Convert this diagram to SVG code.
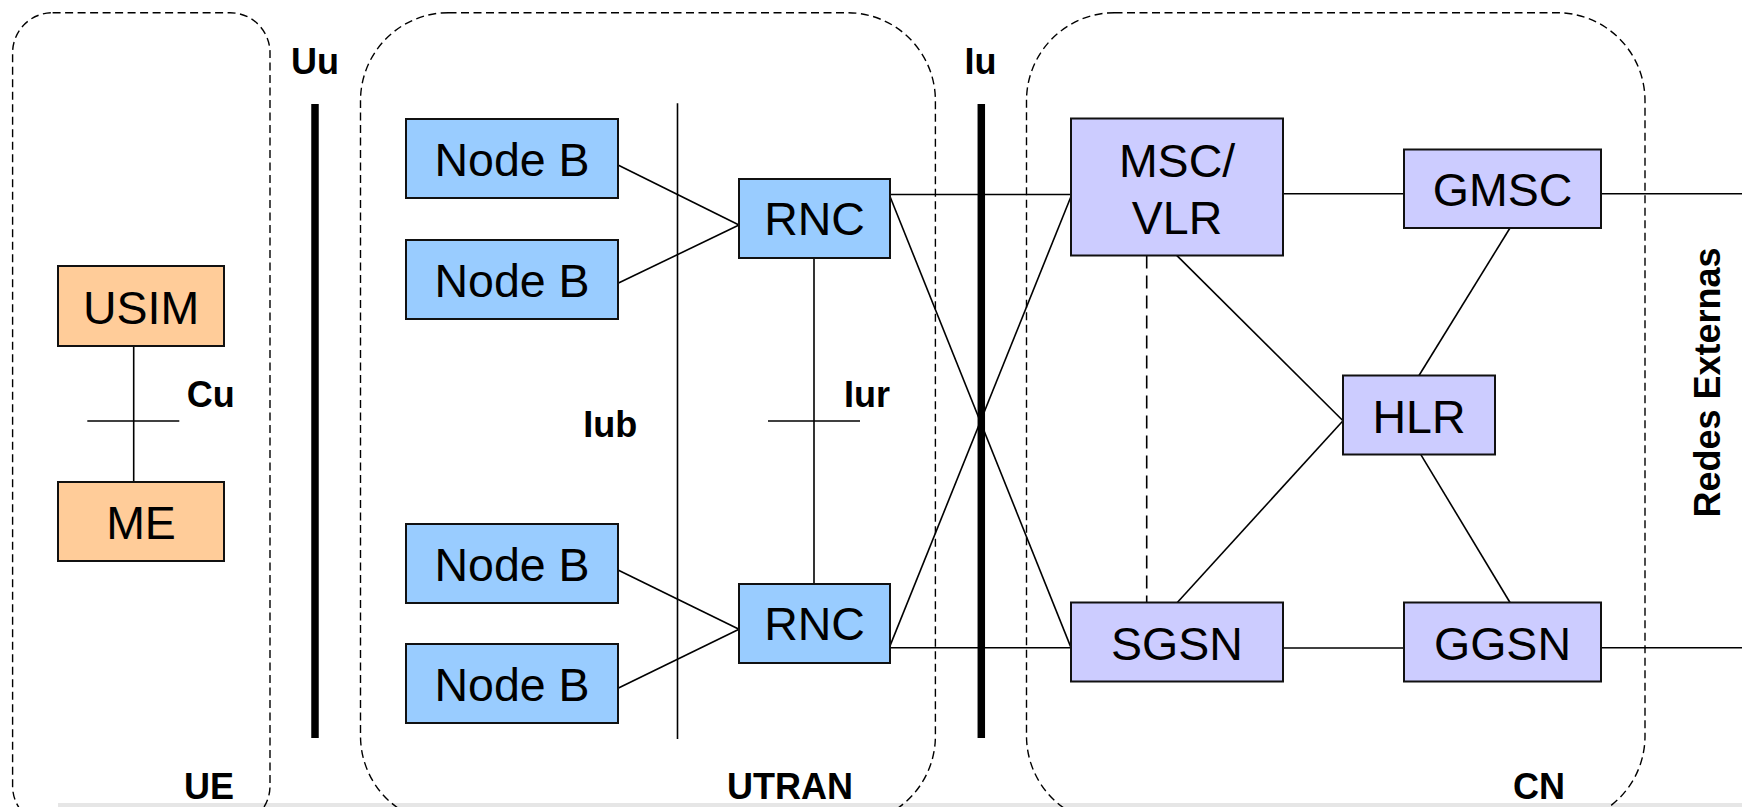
<svg xmlns="http://www.w3.org/2000/svg" width="1742" height="807" viewBox="0 0 1742 807">
  <style>
    .area { fill: none; stroke: #000; stroke-width: 1.4; stroke-dasharray: 8 4.5; }
    .box { stroke: #111; stroke-width: 2; }
    .ue { fill: #FFCC99; }
    .ran { fill: #99CCFF; }
    .core { fill: #CCCCFF; }
    .name { font-family: "Liberation Sans", Arial, sans-serif; font-size: 46.5px; fill: #000; text-anchor: middle; }
    .tag { font-family: "Liberation Sans", Arial, sans-serif; font-size: 36px; font-weight: bold; fill: #000; }
    .link { stroke: #000; stroke-width: 1.6; fill: none; }
    .bar { stroke: #000; stroke-width: 7.5; }
    .dash { stroke: #000; stroke-width: 1.6; stroke-dasharray: 13 7; }
  </style>

  <rect x="0" y="0" width="1742" height="807" fill="#fff"/>
  <rect x="58" y="803" width="1684" height="4" fill="#e6e6e6"/>

  <!-- domain outlines -->
  <g id="domains">
    <rect class="area" x="12.6" y="12.7" width="257.4" height="813.3" rx="40" ry="40"/>
    <rect class="area" x="360.5" y="12.7" width="574.9" height="811.3" rx="88" ry="88"/>
    <rect class="area" x="1026.5" y="12.7" width="618.5" height="811.3" rx="88" ry="88"/>
  </g>

  <!-- interface bars -->
  <g id="interfaces">
    <line class="bar" x1="315" y1="104" x2="315" y2="738"/>
    <line class="bar" x1="981.3" y1="104" x2="981.3" y2="738"/>
    <line class="link" x1="677.5" y1="103.3" x2="677.5" y2="739"/>
  </g>

  <!-- connectors -->
  <g id="connectors">
    <line class="link" x1="133.7" y1="346" x2="133.7" y2="482"/>
    <line class="link" x1="87.3" y1="421" x2="179.3" y2="421"/>

    <line class="link" x1="618" y1="165" x2="739" y2="225"/>
    <line class="link" x1="618" y1="283.3" x2="739" y2="225"/>
    <line class="link" x1="618" y1="570" x2="739" y2="629.3"/>
    <line class="link" x1="618" y1="688.3" x2="739" y2="629.3"/>

    <line class="link" x1="814" y1="256" x2="814" y2="585"/>
    <line class="link" x1="768" y1="421" x2="860" y2="421"/>

    <line class="link" x1="890" y1="194.5" x2="1071" y2="194.5"/>
    <line class="link" x1="890" y1="196.5" x2="1071" y2="647.6"/>
    <line class="link" x1="890" y1="645.9" x2="1071" y2="196.5"/>
    <line class="link" x1="890" y1="647.7" x2="1071" y2="647.7"/>

    <line class="link" x1="1283" y1="193.8" x2="1404" y2="193.8"/>
    <line class="link" x1="1601" y1="193.8" x2="1742" y2="193.8"/>
    <line class="link" x1="1283" y1="648" x2="1404" y2="648"/>
    <line class="link" x1="1601" y1="647.8" x2="1742" y2="647.8"/>

    <line class="dash" x1="1146.7" y1="255.5" x2="1146.7" y2="602.5"/>
    <line class="link" x1="1176.7" y1="255.4" x2="1343" y2="420.7"/>
    <line class="link" x1="1177.3" y1="602.5" x2="1343" y2="420.7"/>
    <line class="link" x1="1510" y1="228" x2="1419" y2="375.5"/>
    <line class="link" x1="1421" y1="454.8" x2="1510" y2="602.5"/>
  </g>

  <!-- UE -->
  <g id="usim">
    <rect class="box ue" x="58" y="266" width="166" height="80"/>
    <text class="name" x="141" y="323.5">USIM</text>
  </g>
  <g id="me">
    <rect class="box ue" x="58" y="482" width="166" height="79"/>
    <text class="name" x="141" y="539">ME</text>
  </g>

  <!-- UTRAN -->
  <g id="nodeb-1">
    <rect class="box ran" x="406" y="119" width="212" height="79"/>
    <text class="name" x="512" y="176">Node B</text>
  </g>
  <g id="nodeb-2">
    <rect class="box ran" x="406" y="240" width="212" height="79"/>
    <text class="name" x="512" y="297">Node B</text>
  </g>
  <g id="nodeb-3">
    <rect class="box ran" x="406" y="524" width="212" height="79"/>
    <text class="name" x="512" y="581">Node B</text>
  </g>
  <g id="nodeb-4">
    <rect class="box ran" x="406" y="644" width="212" height="79"/>
    <text class="name" x="512" y="701">Node B</text>
  </g>
  <g id="rnc-1">
    <rect class="box ran" x="739" y="179" width="151" height="79"/>
    <text class="name" x="814.5" y="235">RNC</text>
  </g>
  <g id="rnc-2">
    <rect class="box ran" x="739" y="584" width="151" height="79"/>
    <text class="name" x="814.5" y="640">RNC</text>
  </g>

  <!-- CN -->
  <g id="msc-vlr">
    <rect class="box core" x="1071" y="118.5" width="212" height="137"/>
    <text class="name" x="1177" y="176.5">MSC/</text>
    <text class="name" x="1177" y="234">VLR</text>
  </g>
  <g id="gmsc">
    <rect class="box core" x="1404" y="149.5" width="197" height="78.5"/>
    <text class="name" x="1502.5" y="206">GMSC</text>
  </g>
  <g id="hlr">
    <rect class="box core" x="1343" y="375.5" width="152" height="79"/>
    <text class="name" x="1419" y="432.5">HLR</text>
  </g>
  <g id="sgsn">
    <rect class="box core" x="1071" y="602.5" width="212" height="79"/>
    <text class="name" x="1177" y="659.5">SGSN</text>
  </g>
  <g id="ggsn">
    <rect class="box core" x="1404" y="602.5" width="197" height="79"/>
    <text class="name" x="1502.5" y="659.5">GGSN</text>
  </g>

  <!-- interface and domain labels -->
  <g id="labels">
    <text class="tag" x="315" y="74" text-anchor="middle">Uu</text>
    <text class="tag" x="980.5" y="74" text-anchor="middle">Iu</text>
    <text class="tag" x="186.7" y="406.7">Cu</text>
    <text class="tag" x="844" y="406.5">Iur</text>
    <text class="tag" x="583.3" y="436.7">Iub</text>
    <text class="tag" x="209" y="799" text-anchor="middle">UE</text>
    <text class="tag" x="790" y="799" text-anchor="middle">UTRAN</text>
    <text class="tag" x="1539" y="799" text-anchor="middle">CN</text>
    <text class="tag" x="1720" y="382.5" text-anchor="middle" transform="rotate(-90 1720 382.5)">Redes Externas</text>
  </g>
</svg>
